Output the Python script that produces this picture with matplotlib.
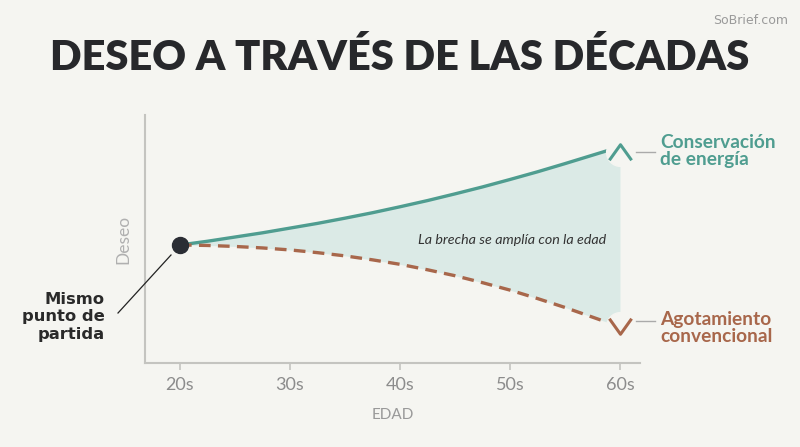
import matplotlib
matplotlib.use("Agg")
import matplotlib.pyplot as plt
from matplotlib.path import Path

plt.rcParams["font.family"] = ["Lato", "DejaVu Sans"]

# ---- data ----
ages = [20, 22.5, 25, 27.5, 30, 32.5, 35, 37.5, 40, 42.5, 45, 47.5, 50, 52.5, 55, 57.5, 60]
tick_labels = ["20s", "30s", "40s", "50s", "60s"]
tick_pos = [20, 30, 40, 50, 60]
conservacion = [47.6, 49.1, 50.8, 52.5, 54.4, 56.3, 58.4, 60.6, 63.0, 65.5, 68.2, 71.0,
                74.0, 77.1, 80.4, 83.8, 87.2]
agotamiento = [47.6, 47.4, 47.0, 46.4, 45.6, 44.5, 43.2, 41.6, 39.8, 37.6, 35.2, 32.4,
               29.4, 26.0, 22.4, 18.5, 14.6]

BG = "#f5f5f1"
TEAL = "#4f9d90"
BROWN = "#a8674b"
FILL = "#d7e9e5"
GRAY = "#8c8c8c"

fig = plt.figure(figsize=(8, 4.47), dpi=100, facecolor=BG)
ax = fig.add_axes([0.18125, 0.1879, 0.61875, 0.5548])
ax.set_facecolor(BG)
ax.set_xlim(16.82, 61.82)
ax.set_ylim(0, 100)

ax.fill_between(ages, agotamiento, conservacion, color=FILL, alpha=0.85, lw=0, zorder=1)
ax.plot(ages, conservacion, color=TEAL, lw=2.4, solid_capstyle="round", zorder=3)
ax.plot(ages, agotamiento, color=BROWN, lw=2.4, dashes=(3.5, 2.2), zorder=3)

# start dot
ax.plot([ages[0]], [conservacion[0]], "o", color="#2a2d34", ms=11.5, zorder=5)

# chevrons at ends
up = Path([(-1, -0.7), (0, 0.7), (1, -0.7)], [Path.MOVETO, Path.LINETO, Path.LINETO])
down = Path([(-1, 0.7), (0, -0.7), (1, 0.7)], [Path.MOVETO, Path.LINETO, Path.LINETO])
ax.plot([ages[-1]], [conservacion[-1] - 2.0], "o", color=BG, ms=20, zorder=4, clip_on=False)
ax.plot([ages[-1]], [agotamiento[-1] + 0.5], "o", color=BG, ms=20, zorder=4, clip_on=False)
ax.plot([ages[-1]], [conservacion[-1] - 2.0], marker=up, ms=16, mfc="none", mec=TEAL, mew=2.2,
        zorder=6, clip_on=False, ls="none")
ax.plot([ages[-1]], [agotamiento[-1] + 0.5], marker=down, ms=16, mfc="none", mec=BROWN, mew=2.2,
        zorder=6, clip_on=False, ls="none")

# spines / ticks
for s in ["top", "right"]:
    ax.spines[s].set_visible(False)
for s in ["left", "bottom"]:
    ax.spines[s].set_color("#c4c4c0")
    ax.spines[s].set_linewidth(1.5)
ax.set_yticks([])
ax.set_xticks(tick_pos)
ax.set_xticklabels(tick_labels)
ax.tick_params(axis="x", colors="#c4c4c0", length=5, width=1.2, pad=5, labelsize=13,
               labelcolor=GRAY)
ax.set_xlabel("EDAD", color="#999999", fontsize=11, labelpad=11)
ax.set_ylabel("Deseo", color="#b0b0b0", fontsize=12.5, labelpad=10)

# annotation text in gap
ax.text(50.2, 49.5, "La brecha se amplía con la edad", style="italic", fontsize=10.3,
        color="#333333", ha="center", va="center", zorder=6)

# series labels
fig.add_artist(plt.Line2D([636 / 800, 655 / 800], [1 - 152 / 447] * 2, color="#aaaaaa", lw=1))
fig.text(660 / 800, 1 - 151 / 447, "Conservación\nde energía", color=TEAL, fontsize=13.8,
         fontweight="bold", ha="left", va="center", linespacing=1.05)
fig.add_artist(plt.Line2D([636 / 800, 655 / 800], [1 - 321 / 447] * 2, color="#aaaaaa", lw=1))
fig.text(660 / 800, 1 - 328 / 447, "Agotamiento\nconvencional", color=BROWN, fontsize=13.8,
         fontweight="bold", ha="left", va="center", linespacing=1.05)

# start point label
fig.text(105 / 800, 1 - 317 / 447, "Mismo\npunto de\npartida", color="#2a2a2a", fontsize=11.8,
         fontweight="bold", ha="right", va="center", linespacing=1.22,
         family=["DejaVu Sans"])
fig.add_artist(plt.Line2D([118 / 800, 171 / 800], [1 - 313 / 447, 1 - 255 / 447],
                          color="#222222", lw=0.9))

# title and watermark
fig.text(0.5, 1 - 58 / 447, "DESEO A TRAVÉS DE LAS DÉCADAS", fontsize=30, fontweight="heavy",
         color="#27282b", ha="center", va="center")
fig.text(788 / 800, 1 - 21 / 447, "SoBrief.com", fontsize=9, color="#9a9a9a", ha="right",
         va="center", family=["Liberation Sans Narrow", "DejaVu Sans"])

fig.savefig("out.png", dpi=100, facecolor=BG)
